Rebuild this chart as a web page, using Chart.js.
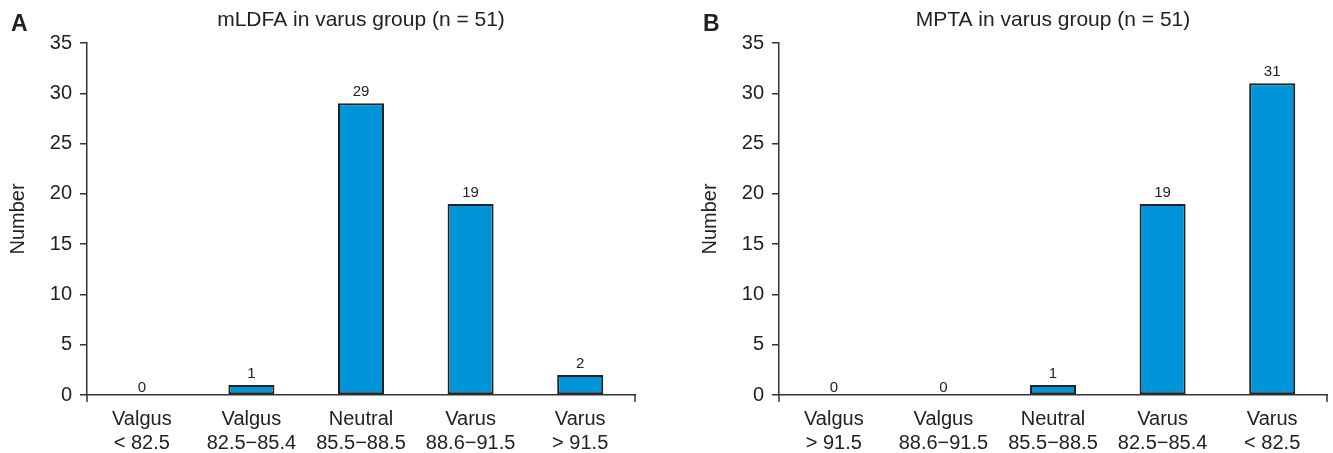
<!DOCTYPE html>
<html>
<head>
<meta charset="utf-8">
<title>mLDFA / MPTA in varus group</title>
<script src="https://cdn.jsdelivr.net/npm/chart.js@4.4.1/dist/chart.umd.min.js"></script>
<style>
  html, body { margin: 0; padding: 0; background: #fff; }
  #wrap { position: relative; width: 1333px; height: 453px; overflow: hidden; }
  canvas { position: absolute; top: 0; }
  #chartA { left: 0; }
  #chartB { left: 692px; }
</style>
</head>
<body>
<div id="wrap">
  <canvas id="chartA" width="692" height="453"></canvas>
  <canvas id="chartB" width="641" height="453"></canvas>
</div>
<script>
const categoriesA = [
  ['Valgus', '< 82.5'],
  ['Valgus', '82.5\u221285.4'],
  ['Neutral', '85.5\u221288.5'],
  ['Varus', '88.6\u221291.5'],
  ['Varus', '> 91.5']
];
const valuesA = [0, 1, 29, 19, 2];

const categoriesB = [
  ['Valgus', '> 91.5'],
  ['Valgus', '88.6\u221291.5'],
  ['Neutral', '85.5\u221288.5'],
  ['Varus', '82.5\u221285.4'],
  ['Varus', '< 82.5']
];
const valuesB = [0, 0, 1, 19, 31];

const yMin = 0;
const yMax = 35;
const yStep = 5;

const FONT = '"Liberation Sans", Arial, Helvetica, sans-serif';
const INK = '#222222';
const AXIS = '#333333';

Chart.defaults.font.family = FONT;
Chart.defaults.color = INK;

// panel letter, title, value labels and the two end ticks of the x axis
const panelText = {
  id: 'panelText',
  afterDatasetsDraw(chart, args, opts) {
    const ctx = chart.ctx;
    const area = chart.chartArea;
    ctx.save();
    ctx.fillStyle = INK;
    ctx.textBaseline = 'alphabetic';

    ctx.font = 'bold 23px ' + FONT;
    ctx.textAlign = 'left';
    ctx.fillText(opts.letter, 11, 31);

    ctx.font = '21px ' + FONT;
    ctx.textAlign = 'center';
    ctx.fillText(opts.title, (area.left + area.right) / 2, 26);

    ctx.font = '15px ' + FONT;
    const meta = chart.getDatasetMeta(0);
    const data = chart.data.datasets[0].data;
    meta.data.forEach((bar, i) => {
      const v = data[i];
      ctx.fillText(String(v), bar.x, bar.y - (v === 0 ? 3 : 7));
    });

    ctx.strokeStyle = AXIS;
    ctx.lineWidth = 1.5;
    ctx.beginPath();
    [area.left, area.right].forEach(x => {
      ctx.moveTo(x, area.bottom);
      ctx.lineTo(x, area.bottom + 7);
    });
    ctx.stroke();
    ctx.restore();
  }
};

function makePanel(canvasId, labels, values, letter, title, padRight) {
  return new Chart(document.getElementById(canvasId), {
    type: 'bar',
    data: {
      labels: labels,
      datasets: [{
        data: values,
        backgroundColor: '#0095d8',
        borderColor: '#222222',
        borderWidth: ctx => (ctx.raw === 0 ? 0 : 2),
        borderSkipped: false,
        barPercentage: 0.42,
        categoryPercentage: 1
      }]
    },
    options: {
      responsive: false,
      animation: false,
      devicePixelRatio: 1,
      layout: { padding: { top: 43, right: padRight, bottom: 0, left: 0 } },
      plugins: {
        legend: { display: false },
        tooltip: { enabled: false },
        panelText: { letter: letter, title: title }
      },
      scales: {
        x: {
          grid: { display: false, drawTicks: false, tickLength: 0 },
          border: { display: true, color: AXIS, width: 1.5 },
          ticks: {
            padding: 13,
            maxRotation: 0,
            autoSkip: false,
            font: { size: 20, lineHeight: 1.17 },
            color: INK
          },
          afterFit: scale => { scale.height = 58; }
        },
        y: {
          min: yMin,
          max: yMax,
          grid: {
            display: true,
            drawOnChartArea: false,
            drawTicks: true,
            tickLength: 7,
            color: AXIS,
            lineWidth: 1.5
          },
          border: { display: true, color: AXIS, width: 1.5 },
          ticks: {
            stepSize: yStep,
            padding: 8,
            font: { size: 20 },
            color: INK
          },
          title: {
            display: true,
            text: 'Number',
            font: { size: 20 },
            color: INK,
            padding: { top: 6, bottom: 0 }
          },
          afterFit: scale => { scale.width = 87; }
        }
      }
    },
    plugins: [panelText]
  });
}

makePanel('chartA', categoriesA, valuesA, 'A', 'mLDFA in varus group (n = 51)', 57);
makePanel('chartB', categoriesB, valuesB, 'B', 'MPTA in varus group (n = 51)', 6);
</script>
</body>
</html>
